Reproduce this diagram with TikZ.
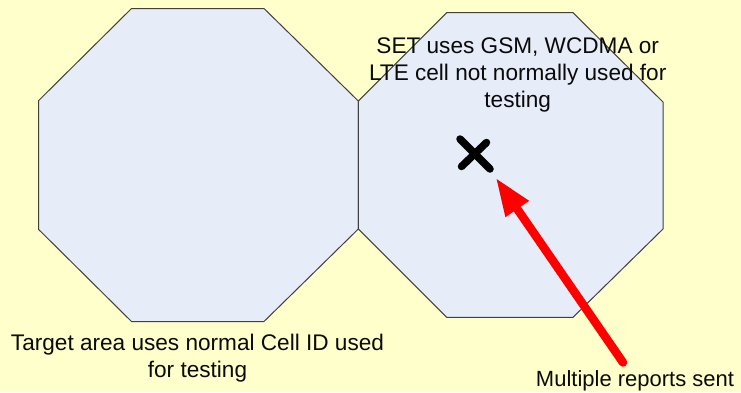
\documentclass[tikz,border=0pt]{standalone}
\usepackage{fontspec}
\setmainfont{Liberation Sans}
\usetikzlibrary{arrows.meta}
\definecolor{bgyellow}{HTML}{FFFFCC}
\definecolor{cellfill}{HTML}{E6ECF8}
\definecolor{celledge}{HTML}{404040}
\definecolor{textcol}{HTML}{0A0A0A}
\tikzset{
  cell/.style={draw=celledge,fill=cellfill,line width=1pt,line join=miter},
  lbl/.style={font=\fontsize{22.6}{27}\selectfont,text=textcol,align=center,inner sep=0pt},
  cross/.style={draw=black,line width=7.5pt,line cap=round},
  report/.style={draw=red,line width=8.5pt,line cap=round,-{Triangle[length=38pt,width=26pt]}}
}
\begin{document}
\begin{tikzpicture}[x=1pt,y=-1pt]
\path[fill=bgyellow] (0,0) rectangle (741,392);
\useasboundingbox (0,0) rectangle (741,392);
\draw[cell] (131.5,8.5) -- (264,8.5) -- (358.3,101) -- (358.3,229) -- (264,321.5) -- (131.5,321.5) -- (38.7,229.5) -- (38.7,100.5) -- cycle;
\draw[cell] (446.7,12.7) -- (573,12.7) -- (663,102) -- (663,229) -- (573,317.3) -- (446.7,317.3) -- (358.3,229) -- (358.3,101) -- cycle;
\node[lbl] (setlabel) at (517.7,75) {SET uses GSM, WCDMA or\\LTE cell not normally used for\\testing};
\node[lbl] (targetlabel) at (197.5,358) {Target area uses normal Cell ID used\\for testing};
\node[lbl,font=\fontsize{22}{27}\selectfont] (reportlabel) at (635,381) {Multiple reports sent};
\coordinate (c1a) at (460,139);
\coordinate (c1b) at (490,169);
\coordinate (c2a) at (486.5,142.5);
\coordinate (c2b) at (461.5,166.5);
\draw[cross] (c1a) -- (c1b);
\draw[cross] (c2a) -- (c2b);
\coordinate (tail) at (623,362.5);
\coordinate (tip) at (495.7,177.7);
\draw[report] (tail) -- (tip);
\end{tikzpicture}
\end{document}
